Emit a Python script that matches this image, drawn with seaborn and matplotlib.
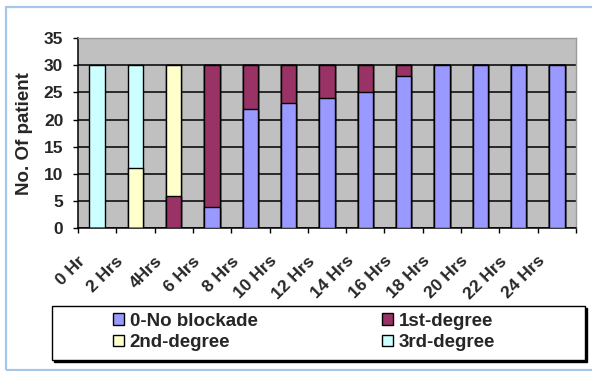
import numpy as np
import pandas as pd
import seaborn as sns
import matplotlib
matplotlib.use("Agg")
import matplotlib.pyplot as plt
from matplotlib.patches import Patch, Rectangle
import matplotlib.transforms as mtransforms

# Heart-block grade counts after dosing, per time point
hours = ["0 Hr", "2 Hrs", "4Hrs", "6 Hrs", "8 Hrs", "10 Hrs", "12 Hrs",
         "14 Hrs", "16 Hrs", "18 Hrs", "20 Hrs", "22 Hrs", "24 Hrs"]
no_blockade = [0, 0, 0, 4, 22, 23, 24, 25, 28, 30, 30, 30, 30]
first_degree = [0, 0, 6, 26, 8, 7, 6, 5, 2, 0, 0, 0, 0]
second_degree = [0, 11, 24, 0, 0, 0, 0, 0, 0, 0, 0, 0, 0]
third_degree = [30, 19, 0, 0, 0, 0, 0, 0, 0, 0, 0, 0, 0]

series_names = ["0-No blockade", "1st-degree", "2nd-degree", "3rd-degree"]
series_values = [no_blockade, first_degree, second_degree, third_degree]
series_colors = ["#9999FF", "#993366", "#FFFFCC", "#CCFFFF"]
y_ticks = [0, 5, 10, 15, 20, 25, 30, 35]

sns.set_style("ticks")
plt.rcParams["font.family"] = ["Liberation Sans", "DejaVu Sans"]
plt.rcParams["font.weight"] = "bold"
FS = 12.5
FS_LABEL = 13.5
FS_LEG = 13.5

W, H = 592, 371
fig = plt.figure(figsize=(W / 100, H / 100), dpi=100)
fig.patch.set_facecolor("white")

# outer light-blue frame
fig.patches.append(Rectangle((6 / W, 1.5 / H), 1.0, (H - 8.5) / H,
                             transform=fig.transFigure, fill=False,
                             edgecolor="#A7C7EA", lw=1.6, clip_on=False))

ax = fig.add_axes([78 / W, (H - 228.3) / H, 498 / W, 190.3 / H])
ax.set_facecolor("#C0C0C0")

# stacked bars: draw cumulative totals from the top layer down
df = pd.DataFrame({"hour": hours})
cum = np.cumsum(np.array(series_values), axis=0)
for i in range(len(series_names) - 1, -1, -1):
    df["total"] = cum[i]
    sns.barplot(data=df, x="hour", y="total", order=hours, color=series_colors[i],
                saturation=1, width=0.4, edgecolor="black", linewidth=1.0,
                errorbar=None, ax=ax, zorder=3)

ax.set_ylim(0, 35)
ax.set_xlim(-0.5, len(hours) - 0.5)
ax.set_yticks(y_ticks)
ax.set_yticklabels([str(v) for v in y_ticks], fontsize=FS, fontweight="bold")
ax.yaxis.grid(True, color="black", lw=1.1)
ax.set_axisbelow(True)

# category boundaries get tick marks, centres carry the labels
ax.set_xticks(np.arange(-0.5, len(hours), 1.0))
ax.set_xticklabels([""] * (len(hours) + 1))
ax.set_xticks(np.arange(len(hours)), minor=True)
ax.set_xticklabels(hours, minor=True, rotation=45, ha="right",
                   fontsize=FS, fontweight="bold")
ax.tick_params(axis="x", which="major", length=3.6, width=1, direction="out", color="black")
ax.tick_params(axis="x", which="minor", length=0, pad=18)
ax.tick_params(axis="y", length=3.6, width=1, direction="out", pad=7, color="black")
shift = mtransforms.ScaledTranslation(-0.09, 0, fig.dpi_scale_trans)
for lab in ax.get_xticklabels(minor=True):
    lab.set_transform(lab.get_transform() + shift)

ax.set_xlabel("")
ax.set_ylabel("No. Of patient", fontsize=FS_LABEL, fontweight="bold")
ax.yaxis.set_label_coords(-0.107, 0.5)
ax.yaxis.label.set_verticalalignment("center")

for side in ["left", "bottom"]:
    ax.spines[side].set_color("black")
    ax.spines[side].set_linewidth(1.1)
for side in ["top", "right"]:
    ax.spines[side].set_color("#9A9A9A")
    ax.spines[side].set_linewidth(1.0)

# legend box with a thin drop shadow
lx0, ly0, lx1, ly1 = 52, 306, 585, 360
fig.patches.append(Rectangle(((lx0 + 1.5) / W, (H - ly1 - 1.5) / H), (lx1 - lx0) / W,
                             (ly1 - ly0) / H, transform=fig.transFigure,
                             facecolor="black", edgecolor="black", lw=1.0))
fig.patches.append(Rectangle((lx0 / W, (H - ly1) / H), (lx1 - lx0) / W,
                             (ly1 - ly0) / H, transform=fig.transFigure,
                             facecolor="white", edgecolor="black", lw=1.0))

handles = [Patch(facecolor=c, edgecolor="black", lw=1.0) for c in series_colors]
common = dict(frameon=False, borderpad=0, borderaxespad=0, handlelength=0.58,
              handleheight=0.58, handletextpad=0.32, labelspacing=0.22,
              prop={"size": FS_LEG, "weight": "bold"}, loc="center left")
col1 = fig.legend([handles[0], handles[2]], [series_names[0], series_names[2]],
                  bbox_to_anchor=(113 / W, (H - 332) / H), **common)
col2 = fig.legend([handles[1], handles[3]], [series_names[1], series_names[3]],
                  bbox_to_anchor=(382 / W, (H - 332) / H), **common)

fig.savefig("out.png", dpi=100, facecolor="white")
